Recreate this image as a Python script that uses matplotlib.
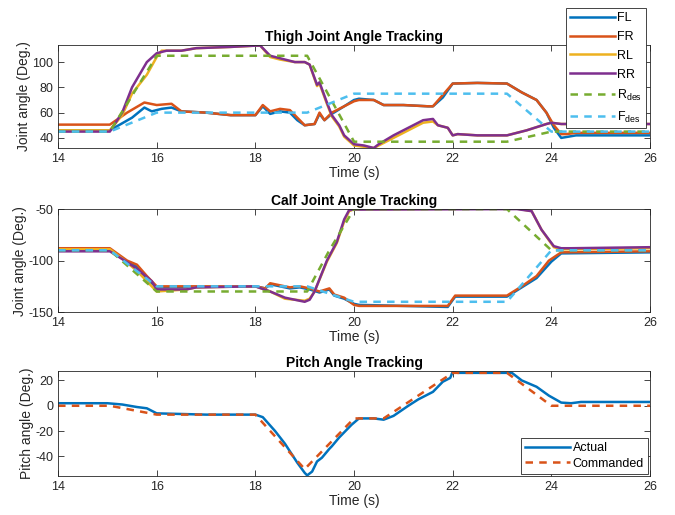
import numpy as np
import matplotlib
matplotlib.use('Agg')
import matplotlib.pyplot as plt

plt.rcParams['font.family'] = ['Liberation Sans', 'DejaVu Sans']
plt.rcParams['mathtext.fontset'] = 'custom'
plt.rcParams['mathtext.rm'] = 'Liberation Sans'
plt.rcParams['axes.unicode_minus'] = False
plt.rcParams['lines.solid_joinstyle'] = 'round'
plt.rcParams['lines.dash_joinstyle'] = 'round'

# MATLAB default colour order
C_BLUE = '#0072BD'
C_ORANGE = '#D95319'
C_YELLOW = '#EDB120'
C_PURPLE = '#7E2F8E'
C_GREEN = '#77AC30'
C_CYAN = '#4DBEEE'

# ---------------- thigh joint angle (deg) ----------------
thigh_rdes_t = [14, 15.05, 16.0, 19.05, 20.0, 23.1, 24.0, 26]
thigh_rdes = [45, 45, 105, 105, 37, 37, 45, 45]
thigh_fdes_t = [14, 15.05, 16.0, 19.05, 20.0, 23.1, 24.0, 26]
thigh_fdes = [45, 45, 60, 60, 75, 75, 45, 45]

thigh_rr_t = [14, 15.05, 15.3, 15.5, 15.8, 16.0, 16.2, 16.5, 16.8, 17.5, 18.0, 18.1, 18.3, 18.5,
              18.8, 19.0, 19.1, 19.25, 19.3, 19.45, 19.55, 19.7, 19.8, 20.0, 20.2, 20.4, 20.5,
              20.8, 21.2, 21.4, 21.6, 21.7, 21.9, 22.0, 22.1, 22.5, 23.1, 23.5, 23.9, 24.0, 24.2,
              24.5, 26]
thigh_rr = [45, 45, 60, 80, 100, 107, 109, 109, 111, 112, 113, 113, 105, 103,
            100, 100, 98, 82, 84, 68, 58, 50, 42, 35, 34, 32, 35,
            42, 50, 54, 55, 50, 48, 42, 43, 42, 42, 46, 51, 52, 51,
            51, 51]
thigh_rl_t = [14, 15.05, 15.3, 15.5, 15.8, 16.0, 16.1, 16.5, 16.8, 17.5, 18.0, 18.1, 18.3, 18.5,
              18.8, 19.0, 19.1, 19.25, 19.3, 19.45, 19.55, 19.7, 19.8, 20.0, 20.2, 20.4, 20.5,
              20.8, 21.2, 21.4, 21.6, 21.7, 21.9, 22.0, 22.1, 22.5, 23.1, 23.5, 23.9, 24.0, 24.2,
              24.5, 26]
thigh_rl = [46, 46, 58, 75, 90, 104, 109, 109, 111, 112, 113, 113, 104, 102,
            100, 100, 98, 81, 83, 67, 57, 49, 41, 34, 33, 32, 34,
            40, 48, 52, 53, 50, 48, 42, 43, 42, 42, 46, 51, 52, 51,
            51, 51]
thigh_fr_t = [14, 15.05, 15.4, 15.75, 16.0, 16.3, 16.5, 17.0, 17.5, 18.0, 18.15, 18.3, 18.5, 18.7,
              18.85, 19.0, 19.2, 19.3, 19.4, 19.55, 19.8, 20.0, 20.1, 20.4, 20.6, 21.0, 21.5,
              21.6, 21.8, 22.0, 22.5, 23.1, 23.4, 23.7, 23.9, 24.05, 24.2, 24.3, 24.5, 26]
thigh_fr = [50.5, 50.5, 60, 68, 66, 67, 61, 60, 58, 58, 66, 61, 63, 62,
            56, 50, 51, 60, 54, 60, 65, 69, 70, 70, 66, 66, 65,
            65, 74, 83, 83.5, 83, 76, 70, 60, 50, 43, 43, 44, 44]
thigh_fl_t = [14, 15.05, 15.5, 15.75, 15.9, 16.1, 16.3, 16.5, 17.0, 17.5, 18.0, 18.15, 18.3, 18.5,
              18.7, 18.85, 19.0, 19.2, 19.3, 19.4, 19.55, 19.8, 20.0, 20.1, 20.4, 20.6, 21.0,
              21.5, 21.6, 21.8, 22.0, 22.5, 23.1, 23.4, 23.7, 23.9, 24.05, 24.2, 24.5, 26]
thigh_fl = [46, 46, 56, 64, 61, 63, 64, 61, 60, 58, 58, 65, 59, 61,
            60, 54, 50, 51, 59, 54, 59, 65, 70, 71, 70, 66, 66,
            65, 65, 72, 83, 83.5, 83, 76, 70, 60, 48, 40, 42, 42]

# ---------------- calf joint angle (deg) ----------------
calf_rdes_t = [14, 15.05, 16.0, 19.05, 19.5, 20.0, 23.1, 24.0, 26]
calf_rdes = [-90, -90, -130, -130, -90, -50, -50, -90, -90]
calf_fdes_t = [14, 15.05, 16.0, 19.05, 20.0, 23.1, 24.0, 26]
calf_fdes = [-90, -90, -125, -125, -140, -140, -90, -90]

calf_rr_t = [14, 15.05, 15.35, 15.6, 15.9, 16.0, 16.6, 16.8, 18.0, 18.3, 18.6, 19.0, 19.1, 19.2,
             19.45, 19.65, 19.8, 19.9, 20.0, 23.3, 23.6, 23.8, 24.05, 24.2, 24.4, 26]
calf_rr = [-91, -91, -100, -108, -120, -128, -128, -126, -125, -130, -136, -140, -138, -130,
           -100, -82, -60, -51, -50.5, -50, -52, -70, -86, -88, -88, -87]
calf_rl_t = [14, 15.05, 15.35, 15.6, 15.9, 16.0, 16.6, 16.8, 18.0, 18.3, 18.6, 19.0, 19.1, 19.2,
             19.45, 19.65, 19.8, 19.9, 20.0, 23.3, 23.6, 23.8, 24.05, 24.2, 24.4, 26]
calf_rl = [-89, -89, -100, -110, -125, -130, -128, -126, -125, -130, -137, -139, -137, -130,
           -101, -83, -62, -52, -50, -49.5, -52, -70, -87, -89, -89, -88]
calf_fr_t = [14, 15.05, 15.4, 15.6, 15.8, 16.0, 18.0, 18.2, 18.3, 18.5, 18.7, 18.9, 19.1, 19.3,
             19.5, 19.6, 19.8, 20.0, 20.1, 21.9, 22.05, 23.1, 23.4, 23.7, 23.95, 24.2, 26]
calf_fr = [-88, -88, -100, -104, -115, -125, -125, -127, -122, -124, -126, -125, -127, -130,
           -127, -133, -136, -143, -144, -144, -134, -134, -125, -115, -100, -92, -91]
calf_fl_t = [14, 15.05, 15.4, 15.6, 15.8, 16.0, 18.0, 18.2, 18.3, 18.5, 18.7, 18.9, 19.1, 19.3,
             19.5, 19.6, 19.8, 20.0, 20.1, 21.9, 22.05, 23.1, 23.4, 23.7, 24.0, 24.2, 26]
calf_fl = [-90, -90, -101, -106, -118, -126, -125, -127, -123, -125, -127, -126, -128, -131,
           -128, -134, -137, -142, -143, -145, -135, -135, -126, -117, -101, -93, -92]

# ---------------- pitch angle (deg) ----------------
pitch_cmd_t = [14, 15.05, 16.0, 18.0, 19.0, 20.0, 20.6, 22.0, 23.1, 24.0, 26]
pitch_cmd = [0, 0, -7, -7, -50, -10, -10, 26, 26, 0, 0]
pitch_act_t = [14, 15.0, 15.3, 15.6, 15.8, 16.0, 16.5, 17.0, 18.0, 18.15, 18.4, 18.6, 18.85, 19.0,
               19.05, 19.15, 19.25, 19.35, 19.5, 19.55, 19.7, 19.95, 20.1, 20.4, 20.6, 20.8,
               21.1, 21.3, 21.6, 21.8, 21.95, 22.0, 22.1, 23.2, 23.4, 23.7, 23.95, 24.2, 24.4,
               24.6, 26]
pitch_act = [2, 2, 1, -1, -2, -6, -6.5, -7, -7, -9, -20, -30, -45, -53,
             -55, -52, -44, -41, -34, -32, -25, -15, -10, -10, -11, -8,
             0, 5, 11, 19, 22, 27, 26, 26, 20, 15, 8, 2.5, 2,
             3, 3]

TEXT = '#262626'
LW = 1.8
DASH = (0, (3, 2.5))


def style_axes(ax, title, ylabel, ylim, yticks):
    ax.set_xlim(14, 26)
    ax.set_ylim(*ylim)
    ax.set_xticks(range(14, 27, 2))
    ax.set_yticks(yticks)
    ax.set_title(title, fontsize=10, fontweight='bold', pad=3, color='black')
    ax.set_xlabel('Time (s)', fontsize=10, color=TEXT, labelpad=1)
    ax.set_ylabel(ylabel, fontsize=10, color=TEXT, labelpad=1)
    ax.tick_params(direction='in', top=True, right=True, labelsize=9, colors=TEXT,
                   length=4, width=0.6)
    for s in ax.spines.values():
        s.set_color(TEXT)
        s.set_linewidth(0.6)


def style_legend(leg):
    frame = leg.get_frame()
    frame.set_edgecolor(TEXT)
    frame.set_linewidth(0.6)
    frame.set_alpha(1)


fig = plt.figure(figsize=(6.75, 5.15), dpi=100)
ax1 = fig.add_axes([0.086, 0.7126, 0.877, 0.2])
ax2 = fig.add_axes([0.086, 0.394, 0.877, 0.2])
ax3 = fig.add_axes([0.086, 0.0757, 0.877, 0.204])

# thigh
ax1.plot(thigh_fl_t, thigh_fl, color=C_BLUE, lw=LW, label='FL')
ax1.plot(thigh_fr_t, thigh_fr, color=C_ORANGE, lw=LW, label='FR')
ax1.plot(thigh_rl_t, thigh_rl, color=C_YELLOW, lw=LW, label='RL')
ax1.plot(thigh_rr_t, thigh_rr, color=C_PURPLE, lw=LW, label='RR')
ax1.plot(thigh_rdes_t, thigh_rdes, color=C_GREEN, lw=LW, ls=DASH, label=r'$\mathregular{R_{des}}$')
ax1.plot(thigh_fdes_t, thigh_fdes, color=C_CYAN, lw=LW, ls=DASH, label=r'$\mathregular{F_{des}}$')
style_axes(ax1, 'Thigh Joint Angle Tracking', 'Joint angle (Deg.)', (32, 113.5), [40, 60, 80, 100])
leg = ax1.legend(loc='upper right', bbox_to_anchor=(652 / 675, 1 - 2 / 515),
                 bbox_transform=fig.transFigure, fontsize=9, frameon=True, fancybox=False,
                 handlelength=3.6, handletextpad=0.2, labelspacing=0.55, borderpad=0.3)
style_legend(leg)

# calf
ax2.plot(calf_fl_t, calf_fl, color=C_BLUE, lw=LW)
ax2.plot(calf_fr_t, calf_fr, color=C_ORANGE, lw=LW)
ax2.plot(calf_rl_t, calf_rl, color=C_YELLOW, lw=LW)
ax2.plot(calf_rr_t, calf_rr, color=C_PURPLE, lw=LW)
ax2.plot(calf_rdes_t, calf_rdes, color=C_GREEN, lw=LW, ls=DASH)
ax2.plot(calf_fdes_t, calf_fdes, color=C_CYAN, lw=LW, ls=DASH)
style_axes(ax2, 'Calf Joint Angle Tracking', 'Joint angle (Deg.)', (-150, -50), [-150, -100, -50])

# pitch
ax3.plot(pitch_act_t, pitch_act, color=C_BLUE, lw=LW, label='Actual')
ax3.plot(pitch_cmd_t, pitch_cmd, color=C_ORANGE, lw=LW, ls=DASH, label='Commanded')
style_axes(ax3, 'Pitch Angle Tracking', 'Pitch angle (Deg.)', (-55.5, 27.5), [-40, -20, 0, 20])
leg2 = ax3.legend(loc='lower right', fontsize=9, frameon=True, fancybox=False,
                  handlelength=3.6, handletextpad=0.2, labelspacing=0.3, borderpad=0.3,
                  borderaxespad=0.2)
style_legend(leg2)

fig.savefig('out.png', dpi=100)
